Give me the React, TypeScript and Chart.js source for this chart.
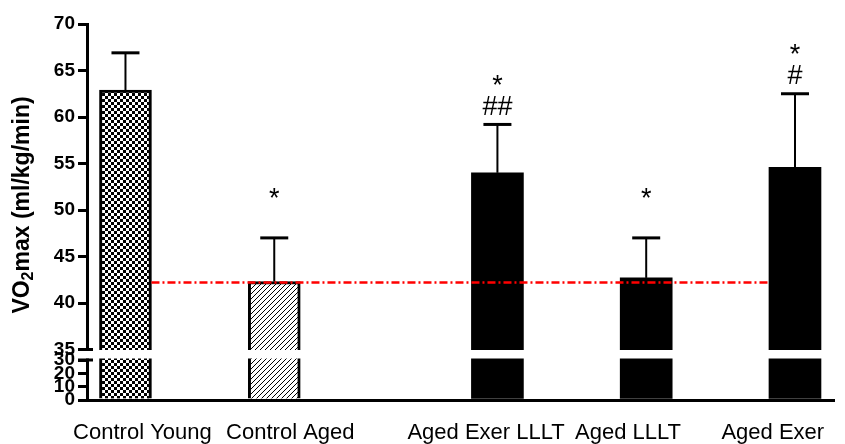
import React, { useEffect, useRef } from 'react';
import { Chart, registerables, LinearScale } from 'chart.js';

// ---------------- data ----------------
const categories = ['Control Young', 'Control Aged', 'Aged Exer LLLT', 'Aged LLLT', 'Aged Exer'];
const xPositions = [0, 1, 2.5, 3.5, 4.5];
const meanValues = [62.9, 42.3, 54.0, 42.7, 54.6];
const errorValues = [4.0, 4.7, 5.2, 4.3, 7.9];
const starMarks = ['', '*', '*', '*', '*'];
const hashMarks = ['', '', '##', '', '#'];
const referenceValue = 42.2;
const yTickValues = [0, 10, 20, 30, 35, 40, 45, 50, 55, 60, 65, 70];

// ---------------- layout constants ----------------
const BREAK_LOW = 30;
const BREAK_HIGH = 35;
const LOW_FRAC = 40 / 376;
const GAP_FRAC = 10.5 / 376;
const labelShift = [0.114, 0.108, -0.076, -0.122, -0.149];
const FONT = '"Liberation Sans", Arial, sans-serif';

class BrokenScale extends LinearScale {
  static id = 'broken';
  static defaults = {};
  buildTicks() {
    return yTickValues.map((v) => ({ value: v }));
  }
  getPixelForValue(value: number) {
    if (value === null || value === undefined || isNaN(value)) return NaN;
    const top = this.top;
    const bottom = this.bottom;
    const h = bottom - top;
    const lowH = h * LOW_FRAC;
    const gapH = h * GAP_FRAC;
    const highH = h - lowH - gapH;
    const min = this.min;
    const max = this.max;
    if (value <= BREAK_LOW) return bottom - ((value - min) / (BREAK_LOW - min)) * lowH;
    if (value >= BREAK_HIGH) return bottom - lowH - gapH - ((value - BREAK_HIGH) / (max - BREAK_HIGH)) * highH;
    return bottom - lowH - ((value - BREAK_LOW) / (BREAK_HIGH - BREAK_LOW)) * gapH;
  }
  getValueForPixel(pixel: number) {
    const top = this.top;
    const bottom = this.bottom;
    const h = bottom - top;
    const lowH = h * LOW_FRAC;
    const gapH = h * GAP_FRAC;
    const highH = h - lowH - gapH;
    const d = bottom - pixel;
    if (d <= lowH) return this.min + (d / lowH) * (BREAK_LOW - this.min);
    if (d <= lowH + gapH) return BREAK_LOW + ((d - lowH) / gapH) * (BREAK_HIGH - BREAK_LOW);
    return BREAK_HIGH + ((d - lowH - gapH) / highH) * (this.max - BREAK_HIGH);
  }
}

Chart.register(...registerables, BrokenScale as any);

function makeChecker(): CanvasPattern | string {
  const c = document.createElement('canvas');
  c.width = 6;
  c.height = 6;
  const g = c.getContext('2d');
  if (!g) return '#000';
  g.fillStyle = '#000';
  g.fillRect(0, 0, 6, 6);
  g.fillStyle = '#fff';
  g.fillRect(0, 0, 3, 3);
  g.fillRect(3, 3, 3, 3);
  return g.createPattern(c, 'repeat') || '#000';
}

function makeHatch(): CanvasPattern | string {
  const s = 5;
  const c = document.createElement('canvas');
  c.width = s;
  c.height = s;
  const g = c.getContext('2d');
  if (!g) return '#fff';
  g.fillStyle = '#fff';
  g.fillRect(0, 0, s, s);
  g.strokeStyle = '#000';
  g.lineWidth = 1;
  g.beginPath();
  g.moveTo(-1, s + 1);
  g.lineTo(s + 1, -1);
  g.moveTo(-1, 1);
  g.lineTo(1, -1);
  g.moveTo(s - 1, s + 1);
  g.lineTo(s + 1, s - 1);
  g.stroke();
  return g.createPattern(c, 'repeat') || '#fff';
}

const overlayPlugin = {
  id: 'overlay',
  afterDatasetsDraw(chart: any) {
    const ctx: CanvasRenderingContext2D = chart.ctx;
    const xs = chart.scales.x;
    const ys = chart.scales.y;
    const area = chart.chartArea;
    const meta = chart.getDatasetMeta(0);
    ctx.save();

    // error bars (upper only)
    ctx.strokeStyle = '#000';
    meanValues.forEach((m, i) => {
      const x = xs.getPixelForValue(xPositions[i]);
      const yTop = ys.getPixelForValue(m);
      const yErr = ys.getPixelForValue(m + errorValues[i]);
      ctx.lineWidth = 2;
      ctx.beginPath();
      ctx.moveTo(x, yTop);
      ctx.lineTo(x, yErr);
      ctx.stroke();
      ctx.lineWidth = 3;
      ctx.beginPath();
      ctx.moveTo(x - 14, yErr);
      ctx.lineTo(x + 14, yErr);
      ctx.stroke();
    });

    // reference dashed line
    const first = meta.data[0];
    const last = meta.data[meta.data.length - 1];
    const yRef = ys.getPixelForValue(referenceValue);
    ctx.strokeStyle = '#ff0000';
    ctx.lineWidth = 2.5;
    ctx.setLineDash([8, 3, 2, 3]);
    ctx.beginPath();
    ctx.moveTo(first.x + first.width / 2, yRef);
    ctx.lineTo(last.x - last.width / 2, yRef);
    ctx.stroke();
    ctx.setLineDash([]);

    // axis break band
    const yHigh = ys.getPixelForValue(BREAK_HIGH);
    const yLow = ys.getPixelForValue(BREAK_LOW);
    ctx.fillStyle = '#fff';
    ctx.fillRect(area.left - 3, yHigh + 0.5, area.right - area.left + 3, yLow - yHigh - 2);
    ctx.strokeStyle = '#000';
    ctx.lineWidth = 3;
    [yHigh, yLow].forEach((yy) => {
      ctx.beginPath();
      ctx.moveTo(area.left - 9, yy);
      ctx.lineTo(area.left + 6, yy);
      ctx.stroke();
    });

    // significance marks
    ctx.fillStyle = '#000';
    ctx.textAlign = 'center';
    ctx.textBaseline = 'middle';
    ctx.font = `27px ${FONT}`;
    meanValues.forEach((m, i) => {
      const x = xs.getPixelForValue(xPositions[i]);
      const yErr = ys.getPixelForValue(m + errorValues[i]);
      if (hashMarks[i]) ctx.fillText(hashMarks[i], x, yErr - 17);
      if (starMarks[i]) ctx.fillText(starMarks[i], x, yErr - 38);
    });

    // y axis title with subscript
    const mainFont = `bold 23px ${FONT}`;
    const subFont = `bold 16px ${FONT}`;
    const p1 = 'VO';
    const p2 = '2';
    const p3 = 'max (ml/kg/min)';
    ctx.font = mainFont;
    const w1 = ctx.measureText(p1).width;
    const w3 = ctx.measureText(p3).width;
    ctx.font = subFont;
    const w2 = ctx.measureText(p2).width;
    const total = w1 + w2 + w3;
    ctx.translate(23, (area.top + area.bottom) / 2 - 7);
    ctx.rotate(-Math.PI / 2);
    ctx.textAlign = 'left';
    ctx.textBaseline = 'middle';
    let cx = -total / 2;
    ctx.font = mainFont;
    ctx.fillText(p1, cx, 0);
    cx += w1;
    ctx.font = subFont;
    ctx.fillText(p2, cx, 6);
    cx += w2;
    ctx.font = mainFont;
    ctx.fillText(p3, cx, 0);

    ctx.restore();
  },
};

export default function App() {
  const ref = useRef<HTMLCanvasElement | null>(null);
  useEffect(() => {
    const canvas = ref.current;
    if (!canvas) return;
    const fills = [makeChecker(), makeHatch(), '#000', '#000', '#000'];
    const chart = new Chart(canvas, {
      type: 'bar',
      data: {
        datasets: [
          {
            data: xPositions.map((x, i) => ({ x, y: meanValues[i] })) as any,
            backgroundColor: fills as any,
            borderColor: '#000',
            borderWidth: [3, 3, 0, 0, 0] as any,
            borderSkipped: 'start',
            barThickness: 52,
          },
        ],
      },
      options: {
        responsive: false,
        animation: false,
        events: [],
        layout: { padding: { top: 24, right: 10, bottom: 0, left: 0 } },
        plugins: { legend: { display: false }, tooltip: { enabled: false } },
        scales: {
          x: {
            type: 'linear',
            min: -0.2586,
            max: 4.765,
            offset: false,
            grid: { display: false, drawTicks: false },
            border: { display: true, color: '#000', width: 3 },
            afterBuildTicks: (s: any) => {
              s.ticks = xPositions.map((p, i) => ({ value: p + labelShift[i] }));
            },
            afterFit: (s: any) => {
              s.height = 44;
            },
            ticks: {
              autoSkip: false,
              maxRotation: 0,
              minRotation: 0,
              padding: 20,
              color: '#000',
              font: { family: FONT, size: 22 },
              callback: (_v: any, i: number) => categories[i],
            },
          },
          y: {
            type: 'broken' as any,
            min: 0,
            max: 70,
            grid: { display: true, drawOnChartArea: false, drawTicks: true, tickLength: 9, lineWidth: 3, color: '#000' },
            border: { display: true, color: '#000', width: 3 },
            afterFit: (s: any) => {
              s.width = 87;
            },
            ticks: {
              autoSkip: false,
              padding: 3,
              color: '#000',
              font: { family: FONT, size: 19, weight: 'bold' },
            },
          } as any,
        },
      },
      plugins: [overlayPlugin],
    });
    return () => chart.destroy();
  }, []);
  return (
    <div style={{ position: 'fixed', left: 0, top: 0, width: 845, height: 444, background: '#fff' }}>
      <canvas ref={ref} width={845} height={444} />
    </div>
  );
}
